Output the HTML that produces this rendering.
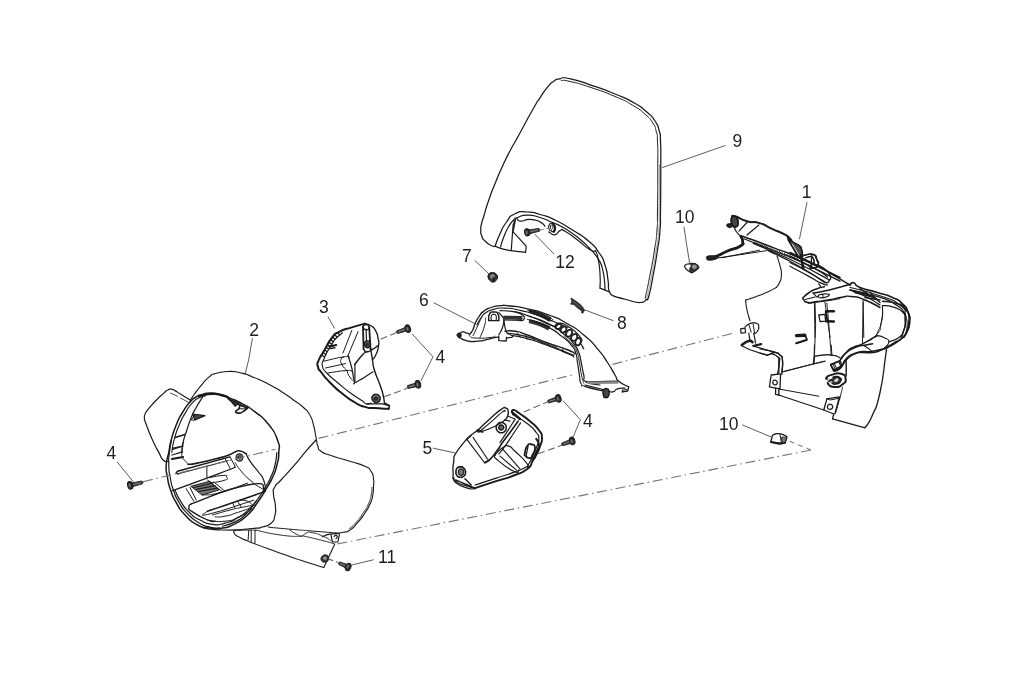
<!DOCTYPE html>
<html><head><meta charset="utf-8"><title>Handlebar covers</title>
<style>
html,body{margin:0;padding:0;background:#fff;}
body{width:1024px;height:699px;overflow:hidden;}
svg{display:block;filter:grayscale(1);}
svg path{fill:none;stroke:#1a1a1a;stroke-width:1.2;stroke-linecap:round;stroke-linejoin:round;}
svg text{font-family:"Liberation Sans",sans-serif;fill:#1e1e1e;}
</style></head><body>
<svg width="1024" height="699" viewBox="0 0 1024 699">
<rect width="1024" height="699" fill="#fff"/>
<!-- 00_labels.txt -->
<g>
<text x="732.4" y="146.9" font-size="17.5">9</text>
<text x="801.8" y="198.1" font-size="17.5">1</text>
<text x="675" y="222.5" font-size="17.5">10</text>
<text x="719.1" y="430.3" font-size="17.5">10</text>
<text x="555.2" y="268.2" font-size="17.5">12</text>
<text x="461.9" y="261.9" font-size="17.5">7</text>
<text x="617" y="328.8" font-size="17.5">8</text>
<text x="419.1" y="305.8" font-size="17.5">6</text>
<text x="319" y="313.1" font-size="17.5">3</text>
<text x="435.5" y="363.3" font-size="17.5">4</text>
<text x="583" y="426.7" font-size="17.5">4</text>
<text x="422.5" y="454.2" font-size="17.5">5</text>
<text x="249.2" y="336.4" font-size="17.5">2</text>
<text x="106.4" y="458.9" font-size="17.5">4</text>
<text x="378" y="563" font-size="17.5">11</text>
</g>
<!-- 10_windshield.txt -->
<g>
<path d="M646.5 299.2C644.3 300.3 646.8 302.4 640 302.5C633.2 302.6 635 301.6 626.2 299.5C617.5 297.4 617.9 297.3 613.8 296.2C612.2 294.6 611.2 296.7 609.2 291.2C607.3 285.8 609.4 288.8 608 280C606.6 271.2 608.1 274.2 605 265C601.9 255.8 604.2 260.4 598.8 252.5C593.3 244.6 597.5 248.8 588.8 241.2C580 233.8 583.8 237.1 572.5 230C561.2 222.9 565.8 225.2 555 220C544.2 214.8 549.2 217.2 540 214.5C530.8 211.8 535.8 212.2 527.5 212C519.2 211.8 522.1 210.2 515 213.8C507.9 217.2 511.2 215.8 506.2 222.5C501.2 229.2 503.8 225.8 500 233.8C496.2 241.8 496.7 242.2 495 246.5C493.8 246.2 494.6 247.3 491.2 245.5C487.9 243.7 488.2 244.2 485 241C481.8 237.8 483.2 239.7 481.8 236C480.3 232.3 480.8 234.1 480.8 230C480.7 225.9 480.5 228.3 481.5 223.8C482.5 219.2 481.3 224.2 483.8 216.2C486.2 208.3 485 210.8 488.8 200C492.5 189.2 490.4 195 495 183.8C499.6 172.5 497.3 177.5 502.5 166.2C507.7 155 505.5 159.6 510.5 150C515.5 140.4 510.2 150.8 517.5 137.5C524.8 124.2 525 123.2 532.5 110C540 96.8 535 105.3 540 97.8C545 90.2 542.9 92.8 547.5 87.2C552.1 81.8 549.6 84.1 553.8 81.2C557.9 78.4 555 79.7 560 78.8C565 77.8 558.8 76.5 568.8 78.5C578.8 80.5 574.6 79.6 590 84.8C605.4 89.9 600.4 88 615 94C629.6 100 623.3 96.9 633.8 102.8C644.2 108.6 639.2 105.4 646.2 111.5C653.3 117.6 650.7 114.5 655 121C659.3 127.5 657.4 124.3 659.2 131C661.1 137.7 660 128.8 660.5 141C661 153.2 660.8 144.5 660.8 167.5C660.8 190.5 660.8 189.2 660.5 210C660.2 230.8 661 216.7 660 230C659 243.3 659.8 235 657.5 250C655.2 265 656.1 259.8 653.2 275C650.4 290.2 651.2 287.4 649 295.5C646.8 303.6 647.3 298 646.5 299.2Z" style="stroke-width:1.25"/>
<path d="M561.2 80.5C564.2 80.8 560.4 79.2 570 81.5C579.6 83.8 575 82.2 590 87.2C605 92.2 600.8 90.5 615 96.5C629.2 102.5 622.5 99.3 632.5 105.2C642.5 111.2 638.2 108.3 645 114.2C651.8 120.2 649 117.2 652.8 123C656.5 128.8 654.7 125.4 656.2 131.5C657.8 137.6 657 129.2 657.5 141.2C658 153.2 657.8 144.6 657.8 167.5C657.8 190.4 657.8 189.2 657.5 210C657.2 230.8 658 216.7 657 230C656 243.3 656.8 235 654.5 250C652.2 265 653.1 258.9 650 275C646.9 291.1 646.8 290.5 645.2 298.2" style="stroke-width:1"/>
<path d="M659.5 165C659.4 180 659.5 188.3 659.2 210C659 231.7 659.8 216.7 658.8 230C657.8 243.3 658.6 235 656.2 250C653.9 265 654.8 259.2 651.8 275C648.7 290.8 648.6 290 647 297.5" style="stroke-width:0.6;stroke:#666"/>
<path d="M500.6 246.9C501.5 244.2 500.6 245.2 503.1 238.8C505.6 232.3 504.6 233.8 508.1 227.5C511.7 221.2 510.6 223.3 513.8 220C516.9 216.7 512.9 219.1 517.5 217.5C522.1 215.9 520 215.2 527.5 215.2C535 215.2 531.7 215.1 540 217.5C548.3 219.9 545 219.3 552.5 222.5C560 225.7 555.8 223.5 562.5 227.1C569.2 230.8 566.2 229.1 572.5 233.5C578.8 237.9 575.8 235.6 581.2 240.2C586.7 244.9 584.2 242.8 588.8 247.5C593.3 252.2 591.2 249.6 595 254.4C598.8 259.2 598.3 259.4 600 261.9"/>
<path d="M511.2 250.6L513.1 225L515.6 218.8L513.1 231.9L526.2 246.2L525.6 252.2"/>
<path d="M495 246.2C497.5 247.1 497.1 247.3 502.5 248.8C507.9 250.2 503.5 249.5 511.2 250.6C519 251.8 520.8 251.7 525.6 252.2"/>
<path d="M516.9 218.1C518.1 219.2 516.2 220.8 520.6 221.2C525 221.7 523.5 219.2 530 219.4C536.5 219.6 535 219.6 540 221.9C545 224.2 543.3 224.8 545 226.2"/>
<path d="M548.8 231.9C550.8 232.8 551.2 235.2 555 234.8C558.8 234.3 556.7 231.8 560 230.6C563.3 229.5 559.2 228.1 565 231.2C570.8 234.4 569.2 233.8 577.5 240C585.8 246.2 584 246.2 590 249.8C596 253.3 593.8 250.3 595.6 250.6"/>
<path d="M595.6 251C596.5 253.6 596.7 251.2 598.1 258.8C599.6 266.3 599.4 264 600 273.8C600.6 283.5 600 283.3 600 288.1"/>
<path d="M600 288.1L609.4 291.9"/>
<path d="M600 261.9C600.8 264.2 601 262.7 602.5 268.8C604 274.8 603.5 272.9 604.4 280C605.2 287.1 604.8 286.7 605 290"/>
<path d="M548.8 225.6C549.4 223.8 549.4 223.9 551 223.2C552.6 222.6 552.2 222.3 553.5 223.8C554.8 225.2 554.9 225 555 227.5C555.1 230 555.2 230.2 553.8 231.2C552.3 232.3 552.2 231.5 550.6 230.6C549 229.8 549.6 230.4 549 228.8C548.4 227.1 548.1 227.5 548.8 225.6Z" style="stroke-width:1.1"/>
<path d="M552.8 223.5C553.5 224.8 554.7 224.8 555 227.5C555.3 230.2 554.2 230.3 553.8 231.8" style="stroke-width:2.2"/>
<path d="M550.4 226.2C550.5 224.9 550.7 225.1 551.5 225C552.3 224.9 552.4 224.8 552.8 226C553.1 227.2 553.1 227.5 552.5 228.5C551.9 229.5 551.7 229.8 551 229C550.3 228.2 550.2 227.6 550.4 226.2Z" style="stroke-width:1"/>
</g>
<!-- 20_cover2.txt -->
<g>
<path d="M168.8 452.4C170.4 444.1 168.8 449.1 171.2 440C173.8 430.9 172.5 434.2 176.2 425C180 415.8 177.9 420.2 182.5 412.5C187.1 404.8 185.4 407.2 190 402C194.6 396.8 192.1 399.5 196.2 397C200.4 394.5 197.9 395.7 202.5 394.4C207.1 393.1 204.2 393.1 210 393.1C215.8 393.1 213.3 392.7 220 394.4C226.7 396.1 222.5 395 230 398.1C237.5 401.2 234.2 399.2 242.5 403.8C250.8 408.3 246.5 405.2 255 411.9C263.5 418.6 260.5 414.4 268 423.8C275.5 433.1 273.9 430.4 277.5 440C281.1 449.6 278.9 444.2 278.8 452.5C278.6 460.8 279 456.7 276.9 465C274.8 473.3 276.1 469.6 272.5 477.5C268.9 485.4 271.2 480.4 266.2 488.8C261.2 497.1 263.8 493.8 257.5 502.5C251.2 511.2 255 507.9 247.5 515C240 522.1 243.3 519.4 235 523.8C226.7 528.1 230.8 526.6 222.5 528C214.2 529.4 218.3 529 210 528C201.7 527 205.8 529.3 197.5 525C189.2 520.7 192.1 522.5 185 515C177.9 507.5 181.1 510.8 176.2 502.5C171.4 494.2 173.5 498.3 170.6 490C167.7 481.7 168.9 485.8 167.5 477.5C166.1 469.2 165.8 473.4 166.2 465C166.7 456.6 167.1 460.7 168.8 452.4Z" style="stroke-width:1.5"/>
<path d="M190 401.2C191.2 399.2 189.6 400.8 193.8 395C197.9 389.2 197.1 390 202.5 383.8C207.9 377.5 205.8 379.6 210 376.2C214.2 372.9 209.2 375.3 215 373.8C220.8 372.2 219.2 371.8 227.5 371.5C235.8 371.2 231.7 371 240 372.8C248.3 374.5 243.2 373.2 252.5 376.9C261.8 380.5 258.2 378.7 268 383.8C277.8 388.8 273.5 386.6 282 392C290.5 397.4 289.7 397.3 293.5 400" style="stroke-width:1.1"/>
<path d="M190 399.8C187.1 398 186.2 397.7 181.2 394.6C176.2 391.6 178.3 392.4 175 390.6C171.7 388.8 173.7 389.5 171.2 389.2C168.8 389 170.2 388.7 167.8 390C165.2 391.3 168 389.3 163.8 393.1C159.5 397 160.4 395.8 155 401.5C149.6 407.2 150.8 406 147.5 410.2C144.2 414.5 146 411.8 145 414.4C144 417 144.2 415 144.5 418.1C144.8 421.2 143.3 416.5 146 423.8C148.7 431 148.2 430.5 152.5 440C156.8 449.5 155.2 445.7 158.8 452.4C162.3 459 160.1 457 163.1 460C166.1 463 166.2 461 167.8 461.5" style="stroke-width:1.2"/>
<path d="M170.6 393.1L177.5 396.2" style="stroke-width:0.8"/>
<path d="M180.6 398.1L188.8 402.5" style="stroke-width:0.8"/>
<path d="M171.8 452.4C172.5 448.2 171.7 449 174.1 440C176.6 431 175.4 434.3 179.1 425.2C182.9 416.2 181 420.2 185.4 412.9C189.7 405.5 187.5 408.2 192.1 403.1C196.8 398.1 195 400.2 199.2 397.8C203.5 395.3 203.1 396.5 205 395.9" style="stroke-width:1.1"/>
<path d="M202.5 397.2C200.4 400.7 200 400.8 196.2 407.5C192.5 414.2 194.4 410 191.2 417.5C188.1 425 189.6 421.7 186.9 430C184.2 438.3 184.8 435 183.1 442.5C181.5 450 182.3 449.1 181.9 452.4"/>
<path d="M198.8 396.2C200.8 395.8 200.4 395.5 205 394.8C209.6 394 207.5 394 212.5 394C217.5 394 215 393.8 220 394.8C225 395.8 225 396.2 227.5 397" style="stroke-width:2.2"/>
<path d="M175 437.5L185 434.4" style="stroke-width:1.6"/>
<path d="M173.1 448.1L183.1 446" style="stroke-width:1.2"/>
<path d="M192.5 414L205 415.6L195 420Z" style="stroke-width:1.2;fill:#444"/>
<path d="M195 414.4L191.2 420L195 420" style="stroke-width:1"/>
<path d="M228.1 398.5C230.4 399.8 228.5 399.3 235 402.5C241.5 405.7 243.3 406.2 247.5 408.1" style="stroke-width:2"/>
<path d="M229.4 399.4L238.8 403.1L235 406.2Z" style="stroke-width:1.2;fill:#333"/>
<path d="M247.5 408.1C245.8 409.4 245.4 410.2 242.5 411.9C239.6 413.5 241 413.2 238.8 413.1C236.5 413 235.6 413 235.6 411.5C235.6 410 237.3 410.9 238.8 408.8C240.2 406.6 239.6 406.2 240 405" style="stroke-width:1.6"/>
<path d="M238.8 408.8L246.2 408.8" style="stroke-width:1"/>
</g>
<!-- 21_cover2b.txt -->
<g>
<path d="M293.5 400C296.8 402.5 298.1 402.5 303.5 407.5C308.9 412.5 306.4 409.2 309.8 415C313.1 420.8 311.4 417.5 313.5 425C315.6 432.5 314.5 430.4 316 437.5C317.5 444.6 316.2 441.7 317.9 446.2C319.5 450.8 316.6 448.1 321 451.2C325.4 454.4 321.4 452.3 331 455.6C340.6 459 338.5 457.7 349.8 461.2C361 464.8 357.7 462.9 364.8 466.2C371.8 469.6 368.1 467.1 371 471.2C373.9 475.4 372.7 473.5 373.5 478.8C374.3 484 373.7 481.8 373.5 487C373.3 492.2 373.9 489.1 372.9 494.5C371.8 499.9 373.1 497 370.4 503.2C367.7 509.5 369.1 506.6 364.8 513.2C360.4 519.9 362.2 517.6 357.2 523.2C352.2 528.9 354.3 527.1 349.8 530.1C345.2 533.1 348.1 531.3 343.5 532.2C338.9 533.2 338.5 532.8 336 533" style="stroke-width:1.1"/>
<path d="M372 487.5C371.8 490 372.3 489.8 371.2 495C370.2 500.2 371.3 497.4 368.8 503.2C366.2 509.1 367.8 506.1 363.5 512.5C359.2 518.9 360.8 517.1 356 522.5C351.2 527.9 351.4 526.7 349.1 528.8" style="stroke-width:0.9"/>
<path d="M316 440C312.7 443.8 313.5 442.5 306 451.2C298.5 460 301.8 456.7 293.5 466.2C285.2 475.8 287.2 473.1 281 480C274.8 486.9 277.2 482.2 274.8 487C272.2 491.8 273.3 488.2 273.5 494.5C273.7 500.8 275 498.7 275.4 505.8C275.8 512.8 276.2 509.9 274.8 515.8C273.3 521.6 275.2 519.5 271 523.2C266.8 527 267.2 525.3 262.2 527C257.2 528.7 260.6 527.7 256 528.2C251.4 528.8 254.7 528.2 248.5 528.8C242.3 529.2 245.3 529.3 237.5 529.8C229.7 530.2 233.3 530.1 225 530C216.7 529.9 220.1 530.2 212.5 529.4C204.9 528.5 205.7 528.1 202.2 527.5" style="stroke-width:1.2"/>
<path d="M268.5 527.2C276.8 528 278.9 528.2 293.5 529.5C308.1 530.8 298.1 529.8 312.2 531C326.4 532.2 328.1 532.3 336 533" style="stroke-width:1"/>
<path d="M289.8 530.1C292.2 531.6 293.1 532.6 297.2 534.5C301.4 536.4 299.3 536.2 302.2 535.8C305.2 535.3 302.7 534.3 306 533.2C309.3 532.2 306.4 531.6 312.2 532.6C318.1 533.7 317.2 533.7 323.5 536.4C329.8 539.1 328.5 539.3 331 540.8" style="stroke-width:0.9"/>
<path d="M256 530.1C264.3 531.8 265.6 533 281 535.1C296.4 537.2 295.2 536 302.2 536.4" style="stroke-width:0.9"/>
<path d="M233.8 531.2C234.2 532.3 232.9 532.3 235 534.4C237.1 536.5 235 535 240 537.5C245 540 238.3 537.3 250 541.9C261.7 546.5 258.3 545.2 275 551.2C291.7 557.3 283.8 554.6 300 560C316.2 565.4 315.8 565 323.8 567.5" style="stroke-width:1.1"/>
<path d="M323.8 567.5L334.8 543.9" style="stroke-width:1.1"/>
<path d="M303.5 536C308.5 537.2 308.5 537 318.5 539.5C328.5 542 328.5 542.2 333.5 543.5" style="stroke-width:0.9"/>
<path d="M233.5 530.8C238.5 530.5 241 530.2 248.5 530.1C256 530 253.5 530.4 256 530.5" style="stroke-width:0.9"/>
<path d="M248.8 530.2L248.1 540" style="stroke-width:1"/>
<path d="M251.2 530L251.2 541.9" style="stroke-width:1"/>
<path d="M255 530L255 543.1" style="stroke-width:1"/>
<path d="M322.2 536.8C324.8 535.9 324.3 535.3 329.8 534.2C335.2 533.2 335.6 533.8 338.5 533.5" style="stroke-width:1.2"/>
<path d="M331 535.1L332.5 542L337.9 542L339.5 533.9" style="stroke-width:1.2"/>
<path d="M334.1 536.4C334.8 536 335 534.9 336 535.1C337 535.3 337.2 535.9 337.2 537C337.2 538.1 336.4 538 336 538.5" style="stroke-width:1.2"/>
<path d="M321.2 558.5C321.5 556.6 321.3 556.9 322.9 555.8C324.5 554.6 324.2 554.7 326 555.1C327.8 555.5 327.6 555.1 328.2 557C328.9 558.9 329 559.1 327.9 560.8C326.7 562.4 326.6 561.8 324.8 562C322.9 562.2 323.4 562.5 322.2 561.4C321.1 560.2 321 560.4 321.2 558.5Z" style="stroke-width:1;fill:#333"/>
<path d="M323.5 558.2C323.3 557.3 323.7 557.3 324.5 557C325.3 556.7 325.4 556.6 326 557.2C326.6 557.9 326.6 558 326.2 558.9C325.9 559.7 325.9 560 325 559.8C324.1 559.5 323.7 559.2 323.5 558.2Z" style="stroke-width:0.5;stroke:#aaa;fill:#999"/>
</g>
<!-- 22_cover2ring.txt -->
<g>
<path d="M171.5 440C170.8 444.2 170.3 444.2 169.4 452.5C168.5 460.8 168.5 456.7 168.8 465C169 473.3 168.7 469.2 170.2 477.5C171.8 485.8 170.5 481.8 173.4 490C176.3 498.2 174.2 494.3 179 502.2C183.8 510.2 180.9 506.9 187.6 513.8C194.4 520.6 191.8 518.4 199.2 522.9C206.7 527.3 203.1 525.4 210 527.1C216.9 528.8 216.7 527.7 220 528" style="stroke-width:1.2"/>
<path d="M175 490C176.9 493.8 175.8 493.8 180.6 501.2C185.4 508.8 182.9 506.2 189.4 512.5C195.8 518.8 192.3 516 200 520C207.7 524 204.2 523.3 212.5 524.4C220.8 525.4 216.7 525.2 225 523.1C233.3 521 230 522.3 237.5 518.1C245 514 241.2 516.2 247.5 510.6C253.8 505 253.3 504.4 256.2 501.2" style="stroke-width:1.2"/>
<path d="M276.9 452.5C276.2 456.7 277.1 456.7 275 465C272.9 473.3 274.2 469.6 270.6 477.5C267.1 485.4 269.4 480.6 264.4 488.8C259.4 496.9 261.7 493.5 255.6 501.9C249.6 510.2 253.1 507.1 246.2 513.8C239.4 520.4 242.9 517.7 235 521.9C227.1 526 226.7 524.8 222.5 526.2" style="stroke-width:1.2"/>
<path d="M183.1 442.5C182.7 445.8 182.1 447.4 181.9 452.4C181.7 457.4 181.5 454.8 182.5 457.5C183.5 460.2 183.1 458.5 185 460.6C186.9 462.8 187.1 462.9 188.1 464" style="stroke-width:1"/>
<path d="M172.5 449.4L182.5 446.2" style="stroke-width:1.3"/>
<path d="M171.9 455L182.5 451.9" style="stroke-width:1.3"/>
<path d="M171.9 459L183.1 456.9" style="stroke-width:2"/>
<path d="M188.1 464.4C191.2 464 188.1 465 197.5 463.1C206.9 461.2 205.8 461.5 216.2 458.8C226.7 456 222.5 457.3 228.8 455C235 452.7 231.2 453.2 235 451.9C238.8 450.5 236.2 450.4 240 451C243.8 451.6 244.2 452.8 246.2 453.8" style="stroke-width:1.6"/>
<path d="M177.8 474L176.2 472.8L177.5 471.2L230 456.9" style="stroke-width:1.4"/>
<path d="M177.5 474L228.1 460.6" style="stroke-width:1"/>
<path d="M236.2 457.5C236.2 455.8 236 455.9 237.2 454.8C238.5 453.6 238.2 453.6 240 454C241.8 454.4 241.8 454.2 242.5 456C243.2 457.8 243.1 457.7 242.2 459.4C241.4 461 241.7 460.8 240 461C238.3 461.2 238.5 461.2 237.2 460C236 458.8 236.2 459.2 236.2 457.5Z" style="stroke-width:1.3"/>
<path d="M237.8 457.5C237.7 456.4 237.7 456.4 238.5 455.8C239.3 455.1 239.3 455 240.2 455.5C241.2 456 241.2 456.1 241.2 457.2C241.3 458.4 241.3 458.4 240.5 459C239.7 459.6 239.7 459.5 238.8 459C237.8 458.5 237.8 458.6 237.8 457.5Z" style="stroke-width:1;fill:#555"/>
<path d="M246.2 453.8C247.5 456.2 245.8 455 250 461.2C254.2 467.5 254.4 466.7 258.8 472.5C263.1 478.3 260.8 473.5 263.1 478.8C265.4 484 264.8 485 265.6 488.1" style="stroke-width:1.2"/>
<path d="M235 462.5C237.1 465.4 236.2 465.4 241.2 471.2C246.2 477.1 243.8 474.6 250 480C256.2 485.4 254.8 484.4 260 487.5C265.2 490.6 263.8 488.8 265.6 489.4" style="stroke-width:1"/>
<path d="M206.9 465.6L206.9 477.5" style="stroke-width:1"/>
<path d="M172.5 490.6C184 486.5 187.7 485.2 206.9 478.1C226 471 220.6 473.1 230 469.4C239.4 465.6 233.3 467.7 235 466.9" style="stroke-width:1.3"/>
<path d="M225 458.8L230 468.1" style="stroke-width:1"/>
<path d="M230 456.9L235 466.2" style="stroke-width:1"/>
<path d="M210 477.5C214.6 476.8 218.2 475.5 223.8 475.4C229.2 475.3 226 475.7 226.5 477.2C227 478.8 229.9 478.2 225.2 480C220.6 481.8 216.8 481.8 212.5 482.8" style="stroke-width:1"/>
<path d="M191.2 486.2L210 481.2L218.8 490L202.5 495Z" style="stroke-width:1;fill:#777"/>
<path d="M193.8 487.5L212.5 483.1" style="stroke-width:1.2"/>
<path d="M196.2 489.4L215 485.6" style="stroke-width:1.2"/>
<path d="M198.8 491.5L216.9 488.1" style="stroke-width:1.2"/>
<path d="M207.5 480L222.5 491.9" style="stroke-width:1"/>
<path d="M213.8 481.9L225 491.2" style="stroke-width:1"/>
<path d="M186.2 488.8L193.8 501.2" style="stroke-width:1"/>
<path d="M190 487.5L196.2 500" style="stroke-width:1"/>
<path d="M191.2 503.8C210 497.5 222.9 489.6 247.5 485C272.1 480.4 259.2 488.3 265 490" style="stroke-width:1.3"/>
<path d="M191.2 503.8C190.5 504.8 188.6 504.2 189 506.9C189.4 509.6 186.3 507.5 192.5 511.9C198.7 516.2 200 516.9 207.5 520C215 523.1 212.5 520.8 215 521.2" style="stroke-width:1.3"/>
<path d="M202.5 495C208.3 494.2 205 496.5 220 492.5C235 488.5 238.3 486.2 247.5 483.1" style="stroke-width:1"/>
<path d="M207.5 511.2C223.3 505.8 236.2 501.7 255 495C273.8 488.3 260.8 492.5 263.8 491.2" style="stroke-width:1.5"/>
<path d="M207.5 511.2C208.1 512.2 194 517.7 209.4 514C224.8 510.3 239 504.8 253.8 500.2" style="stroke-width:1"/>
<path d="M212.5 515C218.3 513.3 220.4 512.5 230 510C239.6 507.5 232.9 509.2 241.2 507.5C249.6 505.8 250.4 505.8 255 505" style="stroke-width:1"/>
<path d="M215 516.9C218.3 516.7 217.5 517.7 225 516.2C232.5 514.8 229.2 515.2 237.5 512.5C245.8 509.8 245.8 509.6 250 508.1" style="stroke-width:1"/>
<path d="M207.5 520C213.3 520.4 214.2 522.5 225 521.2C235.8 520 230.8 520.4 240 516.2C249.2 512.1 248.3 511.2 252.5 508.8" style="stroke-width:1"/>
<path d="M232.5 502.5L235 508.1" style="stroke-width:1"/>
<path d="M237.5 501.2L241.2 506.9" style="stroke-width:1"/>
<path d="M240 500C242.5 500.4 243.3 499.6 247.5 501.2C251.7 502.9 250.8 503.8 252.5 505" style="stroke-width:1"/>
</g>
<!-- 30_part1a.txt -->
<g>
<path d="M732 217.5C733 217.1 730.1 215 735.1 216.2C740.1 217.5 738.9 219 747 221.2C755.1 223.5 751.2 220.6 759.5 223.1C767.8 225.6 763.7 225 772 228.8C780.3 232.5 778.5 231 784.5 234.4C790.5 237.7 787.2 235.8 790.1 238.8C793 241.7 790.1 240.6 793.2 243.1C796.4 245.6 796.8 244 799.5 246.2C802.2 248.5 800.3 246.7 801.4 250C802.4 253.3 802.2 254.2 802.6 256.2" style="stroke-width:2"/>
<path d="M731.6 217.8C732.7 215.7 732.6 215.8 734.5 216.2C736.4 216.7 736.2 216.5 737.4 219C738.5 221.5 738.4 221.2 738 223.8C737.6 226.3 738 225.9 736.2 226.6C734.5 227.4 734.5 227.4 732.9 226C731.2 224.6 731.8 225.2 731.4 222.5C731 219.8 730.6 219.8 731.6 217.8Z" style="stroke-width:1.8;fill:#444"/>
<path d="M727 225C727.2 223.8 727.2 224 728.9 223.8C730.5 223.5 731 223.3 732 224.4C733 225.4 733 225.9 731.8 226.9C730.5 227.8 729.8 227.9 728.2 227.2C726.7 226.6 726.8 226.2 727 225Z" style="stroke-width:1;fill:#222"/>
<path d="M747 222.5L738.9 231.2" style="stroke-width:1.2"/>
<path d="M758.9 225L747 235" style="stroke-width:1.2"/>
<path d="M734.5 228.1C735.3 229.6 734.9 229.8 737 232.5C739.1 235.2 739.5 235 740.8 236.2" style="stroke-width:1.2"/>
<path d="M740.8 236.2C741.4 237.9 742.8 237.9 742.6 241.2C742.4 244.6 745.3 242.9 740.1 246.2C734.9 249.6 734.3 248.1 727 251.2C719.7 254.4 722.8 253.5 718.2 255.6C713.7 257.8 714.9 257 713.2 257.8" style="stroke-width:2.8"/>
<path d="M707.2 256.5C709 255.6 708.8 255.8 712 255.8C715.2 255.7 715.1 255.6 717 256.2C718.9 256.9 718.9 256.6 717.6 257.8C716.4 258.9 716.4 259 713.2 259.8C710.1 260.5 710.4 260.4 708.2 260C706.1 259.6 707.1 259.7 706.8 258.5C706.4 257.3 705.5 257.4 707.2 256.5Z" style="stroke-width:1;fill:#222"/>
<path d="M712 258.8L742 254.4" style="stroke-width:1"/>
<path d="M742 254.4L767 250.6" style="stroke-width:1"/>
<path d="M722 257.8L759.5 250.2" style="stroke-width:1"/>
<path d="M742.6 236.2C753.2 240.2 755.5 240.8 774.5 248.1C793.5 255.4 777.7 248.3 799.5 258.1C821.3 267.9 826.5 271 840 277.5" style="stroke-width:1.5"/>
<path d="M744.5 239C754.5 243 756.2 243.6 774.5 251C792.8 258.4 777.7 251.2 799.5 261.2C821.3 271.3 826.5 274.6 840 281.2" style="stroke-width:1.3"/>
<path d="M753.2 243.4C760.3 246.4 759.1 245.6 774.5 252.5C789.9 259.4 781.2 254.8 799.5 264C817.8 273.2 819.5 274.7 829.5 280" style="stroke-width:1.2"/>
<path d="M768.2 250.6C778.7 255.9 780.8 255.9 799.5 266.5C818.2 277.1 816.2 277.2 824.5 282.5" style="stroke-width:1.2"/>
<path d="M754.5 241.9L757 245" style="stroke-width:1"/>
<path d="M759.5 243.8L762 246.9" style="stroke-width:1"/>
<path d="M764.5 245.6L767 248.8" style="stroke-width:1"/>
<path d="M769.5 247.8L772 250.6" style="stroke-width:1"/>
<path d="M774.5 249.8L777 252.5" style="stroke-width:1"/>
<path d="M779.5 251.5L782 254.6" style="stroke-width:1"/>
<path d="M784.5 253.5L787 256.5" style="stroke-width:1"/>
<path d="M789.5 255.5L792 258.5" style="stroke-width:1"/>
<path d="M794.5 257.5L797 260.5" style="stroke-width:1"/>
<path d="M757 242.9L759.5 246" style="stroke-width:1"/>
<path d="M762 244.8L764.5 247.9" style="stroke-width:1"/>
<path d="M767 246.8L769.5 249.9" style="stroke-width:1"/>
<path d="M772 248.6L774.5 251.8" style="stroke-width:1"/>
<path d="M777 250.6L779.5 253.8" style="stroke-width:1"/>
<path d="M782 252.6L784.5 255.8" style="stroke-width:1"/>
<path d="M787 254.5L789.5 257.6" style="stroke-width:1"/>
<path d="M792 256.5L794.5 259.6" style="stroke-width:1"/>
<path d="M797 258.4L799.5 261.5" style="stroke-width:1"/>
<path d="M777 256.2C778 259.6 778.7 260 780.1 266.2C781.6 272.5 781.6 269.6 781.4 275C781.2 280.4 781.2 278.4 779.5 282.5C777.8 286.6 777.4 285.8 776.4 287.4" style="stroke-width:1.1"/>
<path d="M787.6 237.5C787.2 235.2 788.7 239 792.6 241.9C796.6 244.7 796.5 243.3 799.5 246C802.5 248.7 800.7 246.7 801.5 250C802.3 253.3 802.6 253.4 802 256C801.4 258.6 802.5 260.2 799.8 257.8C797 255.3 797.9 255.5 793.9 248.8C789.8 242 788 239.8 787.6 237.5Z" style="stroke-width:1.6;fill:#555"/>
<path d="M792 243.8L799.5 256.2" style="stroke-width:0.8;stroke:#fff"/>
<path d="M788.2 240L798.2 256.9" style="stroke-width:1.2"/>
<path d="M803.2 255.6C806.2 255.2 807.6 253.3 812 254.4C816.4 255.4 814.3 255.2 816.4 258.8C818.5 262.3 819.7 261.9 818.2 265C816.8 268.1 815.3 268.1 812 268.1C808.7 268.1 809.5 266 808.2 265" style="stroke-width:1.3"/>
<path d="M805.1 258.1C807.2 257.7 808.5 255.4 811.4 256.9C814.3 258.3 814.1 259.6 813.9 262.5C813.7 265.4 811.8 264.6 810.8 265.6" style="stroke-width:1.2"/>
<path d="M812 254.4L810.8 265.6" style="stroke-width:1.3"/>
<path d="M800.8 255L803.2 268.1" style="stroke-width:2.6"/>
<path d="M805 255C807.9 254.8 809.8 252.7 813.8 254.4C817.7 256 815.6 256 816.9 260C818.1 264 819.8 263.3 817.5 266.2C815.2 269.2 812.5 267.9 810 268.8" style="stroke-width:1.4"/>
<path d="M807.5 257.5C809.2 257.4 810.2 254.8 812.5 257.2C814.8 259.8 813.8 262.4 814.4 265" style="stroke-width:1.2"/>
<path d="M790 252.5C798.3 256.5 801.2 257.3 815 264.4C828.8 271.5 819.6 266.9 831.2 273.8C842.9 280.6 843.8 281.2 850 285" style="stroke-width:1.5"/>
<path d="M790 256.2C798.3 260.4 802.5 261.9 815 268.8C827.5 275.6 823.3 274.2 827.5 276.9" style="stroke-width:1.3"/>
<path d="M790 262.5C796.2 265.8 796.7 265.8 808.8 272.5C820.8 279.2 820.4 279.3 826.2 282.8" style="stroke-width:1.2"/>
<path d="M790 266.2C795.8 269.4 797.1 270 807.5 275.6C817.9 281.2 814.6 280 821.2 283.1C827.9 286.2 825.4 284.4 827.5 285" style="stroke-width:1.2"/>
<path d="M815 264.4C817.5 265.4 817.5 264 822.5 267.5C827.5 271 827.9 270.4 830 275C832.1 279.6 830 278.7 828.8 281.2C827.5 283.8 827.1 282.2 826.2 282.8" style="stroke-width:1.4"/>
<path d="M818.8 283.8L821.2 287.5" style="stroke-width:1.2"/>
<path d="M803 297.8C805.1 296 804.6 295.5 809.2 292.5C813.9 289.5 811.8 290.7 816.9 288.8C821.9 286.8 821.9 287.4 824.4 286.8" style="stroke-width:1.5"/>
<path d="M813.1 293.1C816.5 292.5 816.5 292.6 823.2 291.2C830 289.9 825.8 290.9 833.2 289C840.8 287.1 840.1 287.1 845.8 285.5C851.4 283.9 848.8 284.7 850.2 284.2" style="stroke-width:1.5"/>
<path d="M803 297.8C803.3 298.6 802.3 298.7 804 300.2C805.7 301.8 803.8 302 808.1 302.5C812.4 303 809.8 302.5 816.9 301.6C824 300.7 821 301.2 829.4 299.8C837.8 298.3 834.6 298.3 842 297.2C849.4 296.2 843.8 295.6 851.5 296.5C859.2 297.4 855.5 296.3 865 300C874.5 303.7 875 305 880 307.5" style="stroke-width:1.5"/>
<path d="M808.1 303.4C814.6 302.5 816.9 302.3 827.5 300.8C838.1 299.2 835.8 299.3 840 298.6" style="stroke-width:1"/>
<path d="M805 299.5L815 297" style="stroke-width:1.1"/>
<path d="M813.1 293.1L816.9 297.2" style="stroke-width:1.1"/>
<path d="M818.1 296C819 295.1 817.9 295 821 294.4C824.1 293.7 824.8 293.7 827.5 294C830.2 294.3 829.4 294.2 829 295.2C828.6 296.2 828.8 296.2 826.2 297C823.7 297.8 823.8 297.8 821.2 297.8C818.7 297.8 819.5 297.6 818.5 297C817.5 296.4 817.3 296.9 818.1 296Z" style="stroke-width:1.2"/>
<path d="M822.8 294.5L823 297.8" style="stroke-width:1.1"/>
<path d="M850 285C851.2 284.2 850.4 281.9 853.8 282.8C857.1 283.6 852.1 284.2 860 287.5C867.9 290.8 866.7 289.2 877.5 292.5C888.3 295.8 884.2 293.8 892.5 297.5C900.8 301.2 897.3 298.8 902.5 303.8C907.7 308.8 906 306.2 908.1 312.5C910.2 318.8 909.4 315.8 908.8 322.5C908.1 329.2 907.9 327.5 906.2 332.5C904.6 337.5 904.6 335.8 903.8 337.4" style="stroke-width:1.6"/>
<path d="M850 290C855 291.2 854.2 291 865 293.8C875.8 296.5 872.1 294.4 882.5 298.1C892.9 301.9 889.2 300.2 896.2 305C903.3 309.8 900.6 306.7 903.8 312.5C906.9 318.3 905.8 315.8 905.6 322.5C905.4 329.2 904.6 327.5 903.1 332.5C901.7 337.5 901.9 335.8 901.2 337.4" style="stroke-width:1.3"/>
<path d="M850 287.5C859.2 290 860.8 289.2 877.5 295C894.2 300.8 890.8 298.3 900 305C909.2 311.7 903.3 311.7 905 315" style="stroke-width:1.2"/>
<path d="M852.5 291.2C857.5 293.3 858.3 292.9 867.5 297.5C876.7 302.1 875.8 302.5 880 305" style="stroke-width:1.2"/>
<path d="M850 290L867.5 293.8" style="stroke-width:1.6"/>
<path d="M855 292.5L872.5 296.9" style="stroke-width:1.6"/>
<path d="M860 288.8L877.5 300" style="stroke-width:1.4"/>
<path d="M870 292.5L880 302.5" style="stroke-width:1.4"/>
<path d="M865 297.5L880 300" style="stroke-width:1.4"/>
<path d="M814.4 302.5L815 337.4" style="stroke-width:1"/>
<path d="M863.1 300L863.8 337.4" style="stroke-width:1"/>
<path d="M825 302.5C825.8 308.3 825.8 308.4 827.5 320C829.2 331.6 829.2 331.6 830 337.4" style="stroke-width:1"/>
<path d="M882.5 306.2C882.3 310.8 883.5 311.2 881.9 320C880.2 328.8 879.8 326.7 877.5 332.5C875.2 338.3 875.8 335.8 875 337.4" style="stroke-width:1"/>
<path d="M818.8 315L825 314.4L825.6 321.2L820 321.5Z" style="stroke-width:1.3;fill:#fff"/>
<path d="M826.2 311.2L833.8 311.2" style="stroke-width:2.6"/>
<path d="M826.2 321.2L833.8 321.5" style="stroke-width:2.6"/>
<path d="M825.6 312.5L827.5 321.9" style="stroke-width:1.6"/>
<path d="M796.2 335.8L805 335.5" style="stroke-width:2.8"/>
</g>
<!-- 31_part1b.txt -->
<g>
<path d="M776.4 287.4C773.4 288.9 774.6 288.8 767.5 292C760.4 295.2 762.3 294.3 755 297C747.7 299.7 748.8 299.1 745.6 300.1" style="stroke-width:1.1"/>
<path d="M745.6 300.1C746 303.2 745.4 302.6 746.9 309.5C748.3 316.4 749 317 750 320.8" style="stroke-width:1.1"/>
<path d="M740.6 328.9L745 328.2L745.6 332.6L741 333.2Z" style="stroke-width:1.2"/>
<path d="M745 327.2C746.7 326 746.2 324.8 750 323.5C753.8 322.2 753.3 322.1 756.2 323.2C759.2 324.4 758.5 324.1 758.8 327C759 329.9 758.5 329.8 756.9 332C755.2 334.2 754.8 333 753.8 333.5" style="stroke-width:1.2"/>
<path d="M748.8 324.5L751.2 332.2" style="stroke-width:1"/>
<path d="M753.1 323.9L754.6 333.2" style="stroke-width:1"/>
<path d="M748.8 333.2L750 340.8" style="stroke-width:1.2"/>
<path d="M753.8 333.5L755.6 343.2" style="stroke-width:1.2"/>
<path d="M741.9 344.8C744.2 343.5 745.2 341.8 748.8 341C752.3 340.2 751.2 341.8 752.5 342.2" style="stroke-width:2.6"/>
<path d="M753.8 345.8L761.2 344.1" style="stroke-width:2.2"/>
<path d="M741.2 345.5L750 349.8L767.5 355.4L773.8 352L752.5 345.8" style="stroke-width:1.2"/>
<path d="M773.8 352C775.8 353 777.1 352.2 780 355.1C782.9 358 781.9 354.3 782.5 360.8C783.1 367.2 782.1 369.8 781.9 374.4" style="stroke-width:1.3"/>
<path d="M771.2 353.5C773.5 354.8 775.4 354.4 778.1 357.2C780.8 360.1 779.6 356.3 779.4 362C779.2 367.7 778.1 370.2 777.5 374.4" style="stroke-width:1.3"/>
<path d="M782.5 372L813.8 363.9L825 361.4" style="stroke-width:1"/>
<path d="M815 303.2L815.6 324.5L814.4 356.4L813.1 363.9" style="stroke-width:1"/>
<path d="M814.4 356.4C820 356 822.7 354.5 831.2 355.1C839.8 355.8 837.1 357.2 840 358.2" style="stroke-width:1"/>
<path d="M826.9 303.2C827.5 310.3 827.3 307.2 828.8 324.5C830.2 341.8 830.4 344.9 831.2 355.1" style="stroke-width:1"/>
<path d="M796.2 335.1L805 334.6" style="stroke-width:2"/>
<path d="M805 334.9L806.9 339.5" style="stroke-width:1.8"/>
<path d="M796.2 343.2L806.5 340" style="stroke-width:2"/>
<path d="M830.6 365.1L838.8 361.4L841.2 367L833.8 371.4Z" style="stroke-width:1.3"/>
<path d="M834.4 363.5L836.9 369.5" style="stroke-width:1"/>
<path d="M760 348.8C764.6 349.8 767.1 349.8 773.8 351.9C780.4 354 777.1 352.3 780 355C782.9 357.7 781.9 354.4 782.5 360C783.1 365.6 782.1 367.9 781.9 371.9" style="stroke-width:1.3"/>
<path d="M760 353.1L767.5 355L775 352.5" style="stroke-width:1.2"/>
<path d="M778.8 357.5L778.8 372.8" style="stroke-width:1.3"/>
<path d="M771.2 375L780.6 373.8L780 388.8L769.4 386.9Z" style="stroke-width:1.3"/>
<path d="M772.8 382.5C772.7 381.2 772.7 381.4 773.5 380.6C774.3 379.9 774.1 380 775.2 380.2C776.4 380.5 776.4 380.4 777 381.5C777.6 382.6 777.5 382.4 777.1 383.5C776.7 384.6 776.9 384.4 775.8 384.8C774.6 385.1 774.8 385.2 773.8 384.5C772.8 383.8 772.8 383.8 772.8 382.5Z" style="stroke-width:1.3"/>
<path d="M781.9 371.9C792.5 369.2 799.4 367.4 813.8 363.8C828.1 360.1 821.2 361.9 825 361" style="stroke-width:1"/>
<path d="M813.8 363.8L814.4 356.2" style="stroke-width:1"/>
<path d="M814.4 356.2C817.1 355.8 816.9 355.4 822.5 355C828.1 354.6 825.4 354.2 831.2 355C837.1 355.8 837.1 356.7 840 357.5" style="stroke-width:1"/>
<path d="M814.4 345L814 363.8" style="stroke-width:1"/>
<path d="M831.2 345L831.9 355" style="stroke-width:1"/>
<path d="M775.6 388.1L775.6 394.4L779.4 395.2" style="stroke-width:1.3"/>
<path d="M778.8 388.8L778.8 395" style="stroke-width:1.3"/>
<path d="M779.4 395.2L823.8 410L833.8 414" style="stroke-width:1.2"/>
<path d="M778.8 389L818.8 396.2" style="stroke-width:1"/>
<path d="M823.8 410L826.9 398.8L839.4 396.9L835 413.4" style="stroke-width:1.3"/>
<path d="M827.5 406.9C827.6 405.5 827.5 405.6 828.5 404.8C829.5 403.9 829.3 404 830.6 404.4C832 404.8 832 404.7 832.5 406C833 407.3 833 407.2 832.2 408.2C831.5 409.3 831.6 409.1 830.2 409.2C828.9 409.4 829.2 409.5 828.2 408.8C827.3 408 827.4 408.2 827.5 406.9Z" style="stroke-width:1.3"/>
<path d="M833.8 414L832.5 418.8" style="stroke-width:1.3"/>
<path d="M826.9 398.8L830 400L840 398.1" style="stroke-width:1"/>
<path d="M832.5 418.8L865 427.8C867.5 423.5 867.5 426.8 872.5 415C877.5 403.2 875.7 411.7 880 392.5C884.3 373.3 883.3 371.7 885.4 357.5C887.5 343.3 886 352.5 886.2 350" style="stroke-width:1.3"/>
<path d="M842.5 387.5C841.7 390.8 842.3 389 840 397.5C837.7 406 837.1 407.9 835.6 413.1" style="stroke-width:1"/>
<path d="M830.6 364.4L840 360.6L841.9 365.6L833.8 370Z" style="stroke-width:1.4"/>
<path d="M833.1 363.8L835 369.4" style="stroke-width:1"/>
<path d="M840 360.6C841.7 358.3 840 358.1 845 353.8C850 349.4 847.9 350.4 855 347.5C862.1 344.6 860.4 346.2 866.2 345C872.1 343.8 870.4 344.2 872.5 343.8" style="stroke-width:1.5"/>
<path d="M835 371.2C837.1 370 837.5 371.7 841.2 367.5C845 363.3 840.8 363.8 846.2 358.8C851.7 353.8 848.8 355 857.5 352.5C866.2 350 862.3 352.9 872.5 351.2C882.7 349.6 882.8 348.8 888 347.5" style="stroke-width:1.5"/>
<path d="M846.2 361.2L846.2 376.2" style="stroke-width:1"/>
<path d="M826.2 377.8C827.1 375.8 827.5 376 832.5 374.6C837.5 373.3 836.9 372.4 841.2 373.8C845.6 375.1 845.2 375.2 845.6 378.8C846 382.3 846 381.7 842.5 384.4C839 387.1 839.8 387 835 386.9C830.2 386.8 829.8 386.1 828.1 384C826.5 381.9 830.6 382.7 830 380.6C829.4 378.5 825.4 379.8 826.2 377.8Z" style="stroke-width:2"/>
<path d="M831.2 379C832.5 376.8 832.7 376.9 835.6 376.5C838.5 376.1 838.3 376.2 840 377.8C841.7 379.3 841.9 379.2 840.6 381.2C839.4 383.3 839.2 383.4 836.2 384C833.3 384.6 833.5 384.8 831.9 383.1C830.2 381.5 830 381.2 831.2 379Z" style="stroke-width:1.4;fill:#333"/>
<path d="M834.8 380.2C835.3 379.3 835.7 378.9 836.9 378.8C838 378.6 838.2 378.9 838.2 379.8C838.2 380.6 837.9 380.6 836.9 381.2C835.9 381.9 836 382 835.2 381.6C834.5 381.3 834.2 381.2 834.8 380.2Z" style="stroke-width:0.8;stroke:#ddd;fill:#ddd"/>
<path d="M828.1 379.4L831.9 377.8" style="stroke-width:1.5;stroke:#eee"/>
<path d="M828.8 382.5L831.9 381.9" style="stroke-width:1.2;stroke:#eee"/>
<path d="M882.5 301.2C887.5 302.1 889.6 300.8 897.5 303.8C905.4 306.7 902.3 305 906.2 310C910.2 315 908.8 312.5 909.4 318.8C910 325 910.4 322.5 908.1 328.8C905.8 335 907.7 332.5 902.5 337.5C897.3 342.5 899.2 339.8 892.5 343.8C885.8 347.7 889.2 346.5 882.5 349.4C875.8 352.3 879.2 351.5 872.5 352.5C865.8 353.5 868.3 352.1 862.5 352.5C856.7 352.9 860 351.7 855 353.8C850 355.8 851.7 355 847.5 358.8C843.3 362.5 845.8 361.2 842.5 365C839.2 368.8 839.2 368.3 837.5 370" style="stroke-width:1.5"/>
<path d="M900 303.8C902.7 306.7 904.9 306.2 908.1 312.5C911.3 318.8 910.2 315.8 909.6 322.5C909.1 329.2 909.7 326.7 906.5 332.5C903.3 338.3 906.3 335 900 340C893.7 345 895 343.8 887.5 347.5C880 351.2 880.8 350 877.5 351.2" style="stroke-width:1.2"/>
<path d="M882.5 305.6C885.8 306 885.8 304.8 892.5 306.9C899.2 309 898.3 307.5 902.5 311.9C906.7 316.2 904.6 314 905 320C905.4 326 905.8 324.2 903.8 330C901.7 335.8 903.8 333.5 898.8 337.5C893.8 341.5 892.1 340.4 888.8 341.9" style="stroke-width:1.3"/>
<path d="M877.5 335.6C879.6 336.2 880 335.4 883.8 337.5C887.5 339.6 888.8 338.1 888.8 341.9C888.8 345.6 885.4 346.5 883.8 348.8" style="stroke-width:1.1"/>
<path d="M863.8 345.6C865.4 346.7 865.8 346.5 868.8 348.8C871.7 351 871.2 351.2 872.5 352.5" style="stroke-width:1.1"/>
<path d="M877.5 335.6C875.4 336.7 876.2 336 871.2 338.8C866.2 341.5 868.8 340.8 862.5 343.8C856.2 346.7 857.9 344.6 852.5 347.5C847.1 350.4 850 348.8 846.2 352.5C842.5 356.2 842.9 356.7 841.2 358.8" style="stroke-width:1.4"/>
<path d="M863.1 302.5L862.5 342.5" style="stroke-width:1"/>
<path d="M882.5 306.2C882.1 311.7 883.3 312.9 881.2 322.5C879.2 332.1 882.1 328.1 876.2 335C870.4 341.9 867.9 340.4 863.8 343.1" style="stroke-width:1"/>
<path d="M846.2 360L846.2 375" style="stroke-width:1"/>
<path d="M902.5 311.9C903.5 312.9 904.2 309.4 905.6 315C907.1 320.6 907.5 321.7 906.9 328.8C906.2 335.8 904.8 333.8 903.8 336.2" style="stroke-width:1"/>
</g>
<!-- 40_part3.txt -->
<g>
<path d="M364.9 323.6C360.5 324.9 360.3 324.7 351.8 327.4C343.2 330.1 345.9 328.2 339.2 331.8C332.6 335.3 336.8 331.8 331.8 338C326.8 344.2 328.6 343 324.2 350.5C319.9 358 320.7 355.1 318.6 360.5C316.5 365.9 317 362.6 318 366.8C319 370.9 317.8 367.8 321.8 373C325.8 378.2 323.1 375.6 330 382.5C336.9 389.4 334.2 387.1 342.5 393.8C350.8 400.4 347.5 398.1 355 402.5C362.5 406.9 358.8 405 365 406.9C371.2 408.8 365.8 407.5 373.8 408.1C381.7 408.8 383.8 408.5 388.8 408.8" style="stroke-width:2"/>
<path d="M388.8 408.8L389.4 405.6L385 403.1" style="stroke-width:1.6"/>
<path d="M323 361.1C322.8 362.8 321.1 362.2 322.4 366.1C323.6 370.1 321.5 367.4 326.8 373C332 378.6 330.1 376.3 338 383C345.9 389.7 342.6 387.2 350.5 393C358.4 398.8 356.5 396.9 361.8 400.5C367 404.1 363.1 402.9 366.2 403.8C369.4 404.6 369.6 403.3 371.2 403.1" style="stroke-width:1.1"/>
<path d="M364.9 323.6C366.8 324.2 367 323.2 370.5 325.5C374 327.8 373 326.3 375.5 330.5C378 334.7 377 333 378 338C379 343 379.2 340.1 378.6 345.5C378 350.9 378 349.7 376.1 354.2C374.2 358.8 374 357.6 373 359.2" style="stroke-width:1.3"/>
<path d="M370.5 348C371.2 352 371.2 352.7 372.5 360C373.8 367.3 371.9 361.7 374.4 370C376.9 378.3 377.1 376.7 380 385C382.9 393.3 381.7 389 383.1 395C384.6 401 384 400.4 384.4 403.1" style="stroke-width:1.4"/>
<path d="M351.8 330.5L343 353" style="stroke-width:1"/>
<path d="M358 331.8L348 355.5" style="stroke-width:1"/>
<path d="M324.2 361.1C330.9 359.7 335.9 357.8 344.2 356.8C352.6 355.7 347.6 357.6 349.2 358" style="stroke-width:1"/>
<path d="M325.5 368L345.5 363.6" style="stroke-width:1"/>
<path d="M328 373C334.2 372.2 338.8 370.9 346.8 370.5C354.7 370.1 350.1 371.3 351.8 371.8" style="stroke-width:1"/>
<path d="M344.2 356.8C343.2 357.6 342 356.8 341.1 359.2C340.3 361.8 339.9 360.5 341.8 364.2C343.6 368 345.1 368.4 346.8 370.5" style="stroke-width:1"/>
<path d="M348 355.5C349.2 359.7 349.7 359.7 351.8 368C353.8 376.3 352.6 375.9 354.2 380.5C355.9 385.1 350.5 384.7 356.8 381.8C363 378.8 367.6 375.1 373 371.8" style="stroke-width:1.2"/>
<path d="M354.9 364.2L354.9 380.5" style="stroke-width:1.2"/>
<path d="M354.9 364.2C357.6 360.9 359 358.4 363 354.2C367 350.1 365.5 352.6 366.8 351.8" style="stroke-width:1.4"/>
<path d="M346.8 370.5C348 373 347.4 374 350.5 378C353.6 382 354.2 380.9 356.1 382.4" style="stroke-width:1"/>
<path d="M363 326.8L363.6 349.2" style="stroke-width:1.8"/>
<path d="M369.2 326.8L370.5 349.2" style="stroke-width:1.8"/>
<path d="M366.1 329.2L366.5 340.5" style="stroke-width:1.2"/>
<path d="M363.6 349.2C364.7 350.1 363.6 351.8 366.8 351.8C369.9 351.8 369.2 351.3 373 349.2C376.8 347.2 376.3 346.8 378 345.5" style="stroke-width:1.4"/>
<path d="M364.5 344.2C364.3 342.5 364.4 342.8 365.5 341.8C366.6 340.7 366.2 340.8 367.8 341C369.2 341.2 369.2 341.1 370 342.5C370.8 343.9 370.8 343.7 370.2 345.2C369.8 346.8 369.9 346.7 368.5 347.2C367.1 347.8 367.3 348 366 347C364.7 346 364.7 346 364.5 344.2Z" style="stroke-width:1.6;fill:#999"/>
<path d="M366.2 344.2C366.4 343.4 366.2 343.3 367 343C367.8 342.7 367.9 342.7 368.5 343.2C369.1 343.8 369 343.9 368.8 344.8C368.5 345.6 368.5 345.5 367.8 345.8C367 346 367 346 366.5 345.5C366 345 366.1 345.1 366.2 344.2Z" style="stroke-width:1;fill:#333"/>
<path d="M363 327.4C362.4 325.7 363.2 325.6 364.9 324.9C366.5 324.2 366.5 324.2 368 325.2C369.5 326.3 369.7 326.5 369.2 328C368.8 329.5 368.8 330.1 366.8 329.9C364.7 329.7 363.6 329 363 327.4Z" style="stroke-width:1.2"/>
<path d="M342.4 332.8C341.5 333.5 342.2 332.7 339.9 334.9C337.5 337 338 336.1 335.2 339.2C332.5 342.4 333.9 340.9 331.8 344.2C329.6 347.6 330.8 345.8 328.8 349.2C326.8 352.7 327.6 350.5 325.8 354.5C323.9 358.5 324.1 358.9 323.2 361.1" style="stroke-width:1.2"/>
<path d="M337.4 333L339.9 334.9" style="stroke-width:1.3"/>
<path d="M334.9 335.2L337.4 337" style="stroke-width:1.3"/>
<path d="M332.8 337.4L335.2 339.2" style="stroke-width:1.3"/>
<path d="M330.9 339.9L333.4 341.8" style="stroke-width:1.3"/>
<path d="M329.2 342.4L331.8 344.2" style="stroke-width:1.3"/>
<path d="M327.8 344.9L330.2 346.8" style="stroke-width:1.3"/>
<path d="M326.2 347.4L328.8 349.2" style="stroke-width:1.3"/>
<path d="M324.8 349.9L327.2 351.8" style="stroke-width:1.3"/>
<path d="M323.2 352.4L325.8 354.5" style="stroke-width:1.3"/>
<path d="M321.8 355.1L324.5 357" style="stroke-width:1.3"/>
<path d="M329.5 346.6L336.2 345" style="stroke-width:2.2"/>
<path d="M330.5 348.6L334.9 347.8" style="stroke-width:1.4"/>
<path d="M372 398.8C371.6 396.6 371.8 396.9 373.2 395.5C374.7 394.1 374.2 394.3 376.2 394.5C378.2 394.7 378 394.4 379.2 396C380.5 397.6 380.4 397.2 380 399.2C379.6 401.2 379.8 401.1 378 402C376.2 402.9 376.5 403.1 374.5 402C372.5 400.9 372.4 400.9 372 398.8Z" style="stroke-width:1.6;fill:#999"/>
<path d="M374 398.8C374 397.7 374 397.6 375 397C376 396.4 376 396.4 377 397C378 397.6 378 397.7 378 398.8C378 399.8 378 399.8 377 400.2C376 400.8 376 400.8 375 400.2C374 399.8 374 399.8 374 398.8Z" style="stroke-width:1;fill:#333"/>
<path d="M366.2 403.8L382.5 403.8L388.8 405.6" style="stroke-width:1.2"/>
</g>
<!-- 50_part6.txt -->
<g>
<path d="M475 323.8C476.2 321.5 475.8 321 478.8 316.9C481.7 312.7 479.6 314.4 483.8 311.2C487.9 308.1 485.8 309.4 491.2 307.5C496.7 305.6 493.8 306.1 500 305.6C506.2 305.1 500.8 305 510 306C519.2 307 514.6 305.8 527.5 308.8C540.4 311.8 535.4 310 548.8 315C562.1 320 555.8 317.1 567.5 323.8C579.2 330.4 573.8 326.7 583.8 335C593.8 343.3 589.6 339.6 597.5 348.8C605.4 357.9 601.7 353.8 607.5 362.5C613.3 371.2 611.2 368.8 615 375C618.8 381.2 614.2 377.3 618.8 381.2C623.3 385.2 625.4 385 628.8 386.9L627.5 391.2L622.5 391.9" style="stroke-width:1.3"/>
<path d="M476.9 325C478.3 322.5 478.1 321.7 481.2 317.5C484.4 313.3 482.1 315.2 486.2 312.5C490.4 309.8 487.5 310.8 493.8 309.4C500 307.9 495.8 307.7 505 308.1C514.2 308.5 509.6 307.9 521.2 310.6C532.9 313.3 524.4 310.6 540 316.2C555.6 321.9 558.7 323.8 568 327.5" style="stroke-width:1.1"/>
<path d="M475 323.8C473.8 326.7 474 329.4 471.2 332.5C468.5 335.6 469.4 333.3 466.9 333.1C464.4 332.9 465.8 331.9 463.8 331.9C461.7 331.9 461.9 331.5 460.6 333.1C459.4 334.8 458.1 334.4 460 336.9C461.9 339.4 460.4 339.2 466.2 340.6C472.1 342.1 469.6 341.9 477.5 341.2C485.4 340.6 482.9 340.2 490 338.8C497.1 337.3 495.8 337.5 498.8 336.9" style="stroke-width:1.3"/>
<path d="M457.2 335C457.2 333.5 457.3 333.7 458.5 333.2C459.7 332.8 460 332.5 460.8 333.8C461.5 335 461.4 335.7 460.8 337C460.1 338.3 459.9 338.4 458.8 337.8C457.6 337.1 457.3 336.5 457.2 335Z" style="stroke-width:1;fill:#222"/>
<path d="M471.2 333.1C470.8 334.2 467.9 334.6 470 336.2C472.1 337.9 470.8 337.7 477.5 338.1C484.2 338.5 484.2 338.1 490 337.5C495.8 336.9 493.3 336.7 495 336.2" style="stroke-width:1"/>
<path d="M481.9 316.9C480.4 320 480.4 320 477.5 326.2C474.6 332.5 474.6 332.5 473.1 335.6" style="stroke-width:1"/>
<path d="M485.6 318.1C485.2 320.8 486.2 319.8 484.4 326.2C482.5 332.7 481.5 333.8 480 337.5" style="stroke-width:1"/>
<path d="M488.8 320.6C489 318.5 487.7 317.3 489.4 314.4C491 311.5 490.8 311.9 493.8 311.9C496.7 311.9 496.5 311.5 498.1 314.4C499.8 317.3 498.5 318.5 498.8 320.6" style="stroke-width:1.5"/>
<path d="M491.2 320.2C491.3 318.7 490.7 317.6 491.5 315.6C492.3 313.7 492.2 314.4 493.8 314.4C495.2 314.4 495.2 313.7 496 315.6C496.8 317.6 496.2 318.7 496.2 320.2" style="stroke-width:1.1"/>
<path d="M488.8 320.6L498.8 320.6" style="stroke-width:1.1"/>
<path d="M498.8 312.5C500 314 500.8 314.4 502.5 316.9C504.2 319.4 503.8 316.5 503.8 320C503.8 323.5 504.2 322.5 502.5 327.5C500.8 332.5 500 332.5 498.8 335" style="stroke-width:1.2"/>
<path d="M503.8 320C504.6 323.8 504.2 326.5 506.2 331.2C508.3 336 507.9 332.5 510 334.4C512.1 336.2 513.3 335.8 512.5 336.9C511.7 338 509.2 337.5 507.5 337.8" style="stroke-width:1.2"/>
<path d="M498.8 336.9L498.8 340.6L506.2 341L506.5 337.5" style="stroke-width:1.3"/>
<path d="M504.4 317.8L521.2 318.5" style="stroke-width:3.2;stroke:#333"/>
<path d="M503.8 316.2L521.9 316.5" style="stroke-width:1"/>
<path d="M504.4 320L521.2 320.5" style="stroke-width:1"/>
<path d="M515 311.9C517.5 312.9 519.6 312.5 522.5 315C525.4 317.5 524.6 317.5 523.8 319.4C522.9 321.3 521.2 320.3 520 320.8" style="stroke-width:1.2"/>
<path d="M500 310.6C505 311 505.8 310.2 515 311.9C524.2 313.5 517.1 311.9 527.5 315.6C537.9 319.4 533.8 317.7 546.2 323.1C558.8 328.5 554.6 326 565 331.9C575.4 337.7 571.2 335 577.5 340.6C583.8 346.2 581.7 346 583.8 348.8" style="stroke-width:1.2"/>
<path d="M530.6 311.5C533.8 312.5 533.8 312 540 314.5C546.2 317 546.2 317.5 549.4 319" style="stroke-width:3.4;stroke:#222"/>
<path d="M530.6 321C533.8 322 534 321.8 540 324C546 326.2 545.7 326.3 548.5 327.5" style="stroke-width:3;stroke:#333"/>
<path d="M527.5 310C531.7 311 532.1 310.4 540 313.1C547.9 315.8 547.7 315.4 551.2 318.1C554.8 320.8 550.8 320.2 550.6 321.2" style="stroke-width:1"/>
<path d="M527.5 319.4C531.7 320.5 532.5 320.2 540 322.8C547.5 325.2 546.7 325.5 550 326.9" style="stroke-width:1"/>
<path d="M505 331.2C508.3 331.2 507.5 330 515 331.2C522.5 332.5 517.1 331.2 527.5 335C537.9 338.8 532.8 337.5 546.2 342.5C559.8 347.5 558.4 346.2 568 350C577.6 353.8 572.7 352.5 575 353.8" style="stroke-width:1.4"/>
<path d="M512.5 335.6C517.5 336.7 516.2 335.6 527.5 338.8C538.8 341.9 532.8 340 546.2 345C559.8 350 558.8 349.8 568 353.8C577.2 357.7 571.8 355.8 573.8 356.9" style="stroke-width:1.2"/>
<path d="M507.5 333.1C514.2 334.4 514.6 333.2 527.5 336.9C540.4 340.5 530.8 337.9 546.2 344C561.7 350.1 564.6 351.5 573.8 355.2" style="stroke-width:1.1"/>
<path d="M517.5 333.1L520 336.9" style="stroke-width:1"/>
<path d="M525 335.2L527.5 339" style="stroke-width:1"/>
<path d="M532.5 338.1L535 341.2" style="stroke-width:1"/>
<path d="M540 341L542.5 344" style="stroke-width:1"/>
<path d="M547.5 343.8L550 346.9" style="stroke-width:1"/>
<path d="M555 346.5L557.5 349.8" style="stroke-width:1"/>
<path d="M562.5 349.2L565 352.5" style="stroke-width:1"/>
<path d="M555.6 326.9C556 325.4 556.2 325.1 558.1 324.4C560 323.7 560.6 323.5 561.2 324.8C561.9 326 561.5 326.8 560 328.1C558.5 329.5 558.3 329.2 556.9 328.8C555.4 328.3 555.2 328.3 555.6 326.9Z" style="stroke-width:1.9;stroke:#222;fill:#fff"/>
<path d="M560.6 330C560.9 328.1 561.2 327.7 563.1 326.9C565 326 565.4 326 566.2 327.5C567.1 329 567 329.6 565.6 331.2C564.3 332.9 563.9 332.9 562.2 332.5C560.6 332.1 560.3 331.9 560.6 330Z" style="stroke-width:1.9;stroke:#222;fill:#fff"/>
<path d="M566 333.8C566.2 331.7 566.5 331.2 568.5 330.2C570.5 329.3 571 329.4 571.9 331C572.8 332.6 572.6 333.2 571.2 335C569.9 336.8 569.5 336.9 567.8 336.5C566 336.1 565.8 335.8 566 333.8Z" style="stroke-width:1.9;stroke:#222;fill:#fff"/>
<path d="M571 337.8C571.2 335.6 571.6 335.3 573.5 334.4C575.4 333.5 575.8 333.4 576.8 335C577.8 336.6 577.8 337.3 576.5 339.2C575.2 341.2 574.8 341.2 573 340.8C571.2 340.2 570.8 339.9 571 337.8Z" style="stroke-width:1.9;stroke:#222;fill:#fff"/>
<path d="M575.2 342.2C575.3 340 575.7 339.5 577.5 338.5C579.3 337.5 579.7 337.7 580.6 339.4C581.5 341 581.4 341.5 580.2 343.5C579.1 345.5 578.9 345.7 577.2 345.2C575.6 344.8 575.2 344.5 575.2 342.2Z" style="stroke-width:1.9;stroke:#222;fill:#fff"/>
<path d="M555 325.6C556.7 324.8 555 322.5 560 323.1C565 323.8 563.3 322.9 570 327.5C576.7 332.1 576.2 332.1 580 336.9C583.8 341.7 581.9 339 581.2 341.9C580.6 344.8 579.2 344.4 578.1 345.6" style="stroke-width:1.2"/>
<path d="M530 311.9C533.3 312.9 533.8 312.3 540 315C546.2 317.7 545.8 318.3 548.8 320" style="stroke-width:3;stroke:#222"/>
<path d="M530 321.9C533.3 322.9 534.2 322.7 540 325C545.8 327.3 545 327.5 547.5 328.8" style="stroke-width:2.6;stroke:#333"/>
<path d="M530 316.2C536.2 318.8 537.1 317.5 548.8 323.8C560.4 330 556.7 328.3 565 335C573.3 341.7 569.2 337.9 573.8 343.8C578.3 349.6 576.2 346.2 578.8 352.5C581.2 358.8 579.6 355 581.2 362.5C582.9 370 582.1 368.5 583.8 375C585.4 381.5 580.8 378.5 586.2 381.9C591.7 385.2 595.4 384 600 385" style="stroke-width:1.2"/>
<path d="M530 320C535.8 322.3 536.7 321.2 547.5 326.9C558.3 332.5 554.6 330.8 562.5 336.9C570.4 342.9 566.9 339.8 571.2 345C575.6 350.2 573.5 346.7 575.6 352.5C577.7 358.3 576.2 355 577.5 362.5C578.8 370 578.1 367.9 579.4 375C580.6 382.1 579 379.8 581.2 383.8C583.5 387.7 578.3 384.4 586.2 386.9C594.2 389.4 598.8 389.8 605 391.2" style="stroke-width:1.2"/>
<path d="M563.8 336.2C566.7 339 568 339 572.5 344.4C577 349.8 575 346.5 577.2 352.5C579.5 358.5 578 355 579.4 362.5C580.8 370 580 368.1 581.5 375C583 381.9 583 380.4 583.8 383.1" style="stroke-width:1"/>
<path d="M586.2 381.9L617.5 381.2" style="stroke-width:1.2"/>
<path d="M588.1 382.8L617.5 382.5" style="stroke-width:2.4;stroke:#888"/>
<path d="M585 385C591.7 386.7 595.8 387.7 605 390C614.2 392.3 608.3 392.3 612.5 391.9C616.7 391.5 613.3 390 617.5 388.8C621.7 387.5 622.5 388.3 625 388.1" style="stroke-width:1.2"/>
<path d="M622.5 391.9C622.7 391.2 621.5 390.6 623.1 390C624.8 389.4 626 390 627.5 390" style="stroke-width:1.2"/>
<path d="M603.1 391.2C603.4 389 603.1 389.8 604.4 389C605.6 388.2 605.4 388.2 606.9 388.8C608.3 389.3 608.2 388.1 608.8 390.6C609.3 393.1 609.8 394 608.5 396.2C607.2 398.5 606.7 397.7 605 397.5C603.3 397.3 604.1 397.7 603.5 395.6C602.9 393.5 602.8 393.5 603.1 391.2Z" style="stroke-width:1.4;fill:#444"/>
</g>
<!-- 60_part5.txt -->
<g>
<path d="M511.9 411.2C512.7 410.9 511.7 409.4 514.4 410.2C517.1 411.1 514.8 410.1 520 413.8C525.2 417.4 523.8 415.8 530 421.2C536.2 426.7 534.8 424.6 538.8 430C542.7 435.4 541.5 432.1 541.9 437.5C542.3 442.9 541.9 440.4 540 446.2C538.1 452.1 538.8 450 536.2 455C533.8 460 535.4 456.7 532.5 461.2C529.6 465.8 533.3 464.2 527.5 468.8C521.7 473.3 525.4 470.8 515 475C504.6 479.2 509.6 476.9 496.2 481.2C482.9 485.6 482.1 485.8 475 488.1" style="stroke-width:1.9"/>
<path d="M475 488.1C472.5 487.5 474 488.5 467.5 486.2C461 484 460.4 485.8 455.6 481.2C450.8 476.7 453.8 479.2 453.1 472.5C452.5 465.8 452.9 467.5 453.8 461.2C454.6 455 451.9 460.4 455.6 453.8C459.4 447.1 459.8 447.5 465 441.2C470.2 435 467.1 438.5 471.2 435C475.4 431.5 475.4 432.1 477.5 430.6" style="stroke-width:1.3"/>
<path d="M512.5 414.4C517.5 417.5 519.6 417.7 527.5 423.8C535.4 429.8 532.5 427.5 536.2 432.5C540 437.5 538.5 434.2 538.8 438.8C539 443.3 538.8 440.8 536.9 446.2C535 451.7 535.8 449.2 533.1 455C530.4 460.8 531.5 459.6 528.8 463.8C526 467.9 529.6 464.8 525 467.5C520.4 470.2 524.6 468.3 515 471.9C505.4 475.4 509.6 473.8 496.2 478.1C482.9 482.5 482.1 482.7 475 485" style="stroke-width:1.2"/>
<path d="M477.5 430.6C481.7 426.7 482.1 425.8 490 418.8C497.9 411.7 496 412.9 501.2 409.4C506.5 405.8 503.3 407.7 505.6 408.1C507.9 408.5 507.5 407.9 508.1 410.6C508.8 413.3 508.5 413.1 507.5 416.2C506.5 419.4 505.8 418.8 505 420" style="stroke-width:1.4"/>
<path d="M480 431.2C484.2 427.7 485 427.1 492.5 420.6C500 414.2 498.2 415 502.5 411.9C506.8 408.8 504.3 411.5 505.2 411.2" style="stroke-width:1.1"/>
<path d="M477.5 430.6C478.8 430.9 475.4 433 481.2 431.5C487.1 430 487.1 430.1 495 426.2C502.9 422.4 501.7 422.1 505 420" style="stroke-width:1.2"/>
<path d="M477.5 430L482.5 431.9" style="stroke-width:2"/>
<path d="M496.2 427.5C496.2 425.1 496.1 425.7 497.8 424C499.4 422.3 498.9 422.5 501.2 422.5C503.6 422.5 503.1 422.3 504.8 424C506.4 425.7 506.2 425.1 506.2 427.5C506.2 429.9 506.4 429.5 504.8 431.2C503.1 433 503.6 432.8 501.2 432.8C498.9 432.8 499.4 433 497.8 431.2C496.1 429.5 496.2 429.9 496.2 427.5Z" style="stroke-width:1.5"/>
<path d="M498.8 427.5C498.8 426.3 498.7 426.6 499.5 425.8C500.3 424.9 500.1 425 501.2 425C502.4 425 502.2 424.9 503 425.8C503.8 426.6 503.8 426.3 503.8 427.5C503.8 428.7 503.8 428.4 503 429.2C502.2 430.1 502.4 430 501.2 430C500.1 430 500.3 430.1 499.5 429.2C498.7 428.4 498.8 428.7 498.8 427.5Z" style="stroke-width:1.4;fill:#666"/>
<path d="M511.9 412.2L520 419" style="stroke-width:2.4"/>
<path d="M508.1 416.2L515 419" style="stroke-width:1.2"/>
<path d="M505 420L510 421.2" style="stroke-width:1.2"/>
<path d="M518.1 421.2C515.4 425 515.2 425.4 510 432.5C504.8 439.6 506.7 436.7 502.5 442.5C498.3 448.3 501.7 444.4 497.5 450C493.3 455.6 494.2 455.1 490 459.4C485.8 463.6 486.7 461.6 485 462.8" style="stroke-width:1.6"/>
<path d="M520.6 422.8C517.9 426.8 517.7 427.2 512.5 435C507.3 442.8 509.6 439.9 505 446.2C500.4 452.6 500.8 451.4 498.8 454" style="stroke-width:1.2"/>
<path d="M515 419.4C512.5 423.3 512.5 423.5 507.5 431.2C502.5 439 502.5 438.8 500 442.5" style="stroke-width:1.2"/>
<path d="M466.9 439.4L471.2 435.6" style="stroke-width:1.2"/>
<path d="M466.9 439.4L484.4 462.5" style="stroke-width:1.2"/>
<path d="M473.1 437.5L487.5 459" style="stroke-width:1.2"/>
<path d="M484.4 462.5L490 459.4" style="stroke-width:1.2"/>
<path d="M495 455C497.5 452.6 497.9 450.7 502.5 447.8C507.1 444.8 504.6 445.1 508.8 446.2C512.9 447.4 509.2 445.8 515 451.2C520.8 456.7 522.1 457.1 526.2 462.5C530.4 467.9 527.1 465.8 527.5 467.5" style="stroke-width:1.2"/>
<path d="M495 455C495.8 456.7 491.2 454.6 497.5 460C503.8 465.4 506.7 467.9 513.8 471.2C520.8 474.6 517.1 470.4 518.8 470" style="stroke-width:1.2"/>
<path d="M502.5 448.8L520 468.8" style="stroke-width:1.1"/>
<path d="M500 456.2L516.5 470.2" style="stroke-width:1.1"/>
<path d="M525 452.5C525.6 449 525.4 448.3 527.5 445.6C529.6 442.9 528.8 443.8 531.2 444.4C533.8 445 534.6 444 535 447.5C535.4 451 534.2 451.5 532.5 455C530.8 458.5 532.3 457.7 530 458.1C527.7 458.5 527.3 458.1 525.6 456.2C524 454.4 524.4 456 525 452.5Z" style="stroke-width:1.8"/>
<path d="M528.1 446.2L526.2 455.6" style="stroke-width:1.2"/>
<path d="M536.2 438.8C537.1 440.8 538.8 440.4 538.8 445C538.8 449.6 538.3 447.5 536.2 452.5C534.2 457.5 533.8 457.5 532.5 460" style="stroke-width:2"/>
<path d="M456 471.9C456.1 469.4 455.7 469.8 457.2 468.1C458.8 466.5 458.4 466.8 460.6 466.9C462.9 467 462.3 466.6 464 468.5C465.7 470.4 465.7 469.9 465.6 472.5C465.5 475.1 465.6 474.7 463.8 476.2C461.9 477.8 462.2 477.5 460 477.2C457.8 477 458.3 477.4 457 475.6C455.7 473.8 455.9 474.4 456 471.9Z" style="stroke-width:1.6"/>
<path d="M458.5 471.9C458.7 470.3 458.2 470.3 459.4 469.4C460.5 468.4 460.4 468.4 461.9 469C463.3 469.6 463.3 469.5 463.8 471.2C464.2 473 464.2 473 463.1 474.4C462.1 475.7 462.1 475.4 460.6 475.2C459.2 475.1 459.5 475.1 458.8 474C458 472.9 458.3 473.4 458.5 471.9Z" style="stroke-width:1.2;fill:#777"/>
<path d="M455.6 480C459.6 481.7 461 482.3 467.5 485C474 487.7 472.5 487.1 475 488.1" style="stroke-width:1.4"/>
<path d="M465 478.8L471.2 485" style="stroke-width:1.4"/>
<path d="M453.8 477.5C454.6 479.4 451.7 479.6 456.2 483.1C460.8 486.7 461.2 486.2 467.5 488.1C473.8 490 472.5 488.5 475 488.8" style="stroke-width:1.2"/>
</g>
<!-- 70_hardware.txt -->
<g>
<path d="M407.2 326.7L396.7 330.9L396.4 332.5L397.7 333.5L408.4 330.5 Z" style="fill:#3a3a3a;stroke:#222;stroke-width:0.9"/>
<path d="M405.4 329.4L398.6 331.7" style="stroke:#8a8a8a;stroke-width:0.9"/>
<ellipse cx="407.8" cy="328.6" rx="2.6" ry="3.9" transform="rotate(161.2 407.8 328.6)" style="fill:#2a2a2a;stroke:#1a1a1a;stroke-width:1"/>
<ellipse cx="408.4" cy="328.4" rx="1.2" ry="2.1" transform="rotate(161.2 407.8 328.6)" style="fill:#6a6a6a;stroke:none"/>
<path d="M417.5 382.4L407.6 385.6L407.2 387.2L408.4 388.4L418.5 386.2 Z" style="fill:#3a3a3a;stroke:#222;stroke-width:0.9"/>
<path d="M415.6 385L409.4 386.6" style="stroke:#8a8a8a;stroke-width:0.9"/>
<ellipse cx="418" cy="384.3" rx="2.6" ry="3.9" transform="rotate(164.9 418 384.3)" style="fill:#2a2a2a;stroke:#1a1a1a;stroke-width:1"/>
<ellipse cx="418.6" cy="384.1" rx="1.2" ry="2.1" transform="rotate(164.9 418 384.3)" style="fill:#6a6a6a;stroke:none"/>
<path d="M557.8 396.5L547.9 400.3L547.5 401.8L548.7 402.9L559 400.3 Z" style="fill:#3a3a3a;stroke:#222;stroke-width:0.9"/>
<path d="M556 399.2L549.7 401.1" style="stroke:#8a8a8a;stroke-width:0.9"/>
<ellipse cx="558.4" cy="398.4" rx="2.6" ry="3.9" transform="rotate(162.4 558.4 398.4)" style="fill:#2a2a2a;stroke:#1a1a1a;stroke-width:1"/>
<ellipse cx="559" cy="398.2" rx="1.2" ry="2.1" transform="rotate(162.4 558.4 398.4)" style="fill:#6a6a6a;stroke:none"/>
<path d="M571.5 439L561.9 443.1L561.6 444.7L562.9 445.7L572.9 442.8 Z" style="fill:#3a3a3a;stroke:#222;stroke-width:0.9"/>
<path d="M569.8 441.7L563.8 443.9" style="stroke:#8a8a8a;stroke-width:0.9"/>
<ellipse cx="572.2" cy="440.9" rx="2.6" ry="3.9" transform="rotate(160.3 572.2 440.9)" style="fill:#2a2a2a;stroke:#1a1a1a;stroke-width:1"/>
<ellipse cx="572.8" cy="440.7" rx="1.2" ry="2.1" transform="rotate(160.3 572.2 440.9)" style="fill:#6a6a6a;stroke:none"/>
<path d="M130.7 487.2L142.5 483.8L143 482.2L141.9 481L129.7 483.4 Z" style="fill:#3a3a3a;stroke:#222;stroke-width:0.9"/>
<path d="M132.6 484.7L140.7 482.8" style="stroke:#8a8a8a;stroke-width:0.9"/>
<ellipse cx="130.2" cy="485.3" rx="2.6" ry="3.9" transform="rotate(-13.6 130.2 485.3)" style="fill:#2a2a2a;stroke:#1a1a1a;stroke-width:1"/>
<ellipse cx="129.6" cy="485.4" rx="1.2" ry="2.1" transform="rotate(-13.6 130.2 485.3)" style="fill:#6a6a6a;stroke:none"/>
<path d="M349 565.2L340 561.9L338.7 562.9L338.8 564.5L347.4 568.8 Z" style="fill:#3a3a3a;stroke:#222;stroke-width:0.9"/>
<path d="M345.9 566L340.8 563.8" style="stroke:#8a8a8a;stroke-width:0.9"/>
<ellipse cx="348.2" cy="567" rx="2.6" ry="3.9" transform="rotate(-156.6 348.2 567)" style="fill:#2a2a2a;stroke:#1a1a1a;stroke-width:1"/>
<ellipse cx="348.8" cy="567.2" rx="1.2" ry="2.1" transform="rotate(-156.6 348.2 567)" style="fill:#6a6a6a;stroke:none"/>
<path d="M527.6 234.3L539.5 231.2L540 229.6L538.9 228.4L526.8 230.3 Z" style="fill:#3a3a3a;stroke:#222;stroke-width:0.9"/>
<path d="M529.6 231.8L537.7 230.1" style="stroke:#8a8a8a;stroke-width:0.9"/>
<ellipse cx="527.2" cy="232.3" rx="2.6" ry="3.6" transform="rotate(-11.8 527.2 232.3)" style="fill:#2a2a2a;stroke:#1a1a1a;stroke-width:1"/>
<ellipse cx="526.6" cy="232.4" rx="1.2" ry="2" transform="rotate(-11.8 527.2 232.3)" style="fill:#6a6a6a;stroke:none"/>
<path d="M488.2 277C487.9 274.7 487.8 275.3 489.2 273.8C490.6 272.3 490.2 272.5 492.5 272.6C494.8 272.7 494.4 272.5 496 274C497.6 275.5 497.3 274.9 497.4 277C497.5 279.1 497.6 278.5 496.2 280.2C494.8 281.9 495.3 281.9 493.2 282C491.1 282.1 491.7 282.3 490 280.6C488.3 278.9 488.5 279.3 488.2 277Z" style="stroke-width:1;fill:#333"/>
<path d="M490.5 276C490.9 274.7 491.2 274.7 492.5 274.6C493.8 274.5 494.1 274.5 494.4 275.6C494.7 276.7 494.4 277.1 493.4 278C492.4 278.9 492.3 279.1 491.3 278.4C490.3 277.7 490.1 277.3 490.5 276Z" style="stroke-width:0.5;stroke:#888;fill:#8a8a8a"/>
<path d="M493 277L493.6 281.6" style="stroke-width:1;stroke:#111"/>
<path d="M571.2 298.6C572.1 298.1 572.2 298.8 574.5 300.2C576.8 301.6 575.8 300.8 578.2 302.8C580.6 304.8 579.8 303.9 581.8 306.2C583.8 308.5 583.5 308.1 584.2 309.8C584.9 311.5 584.3 310.1 583.8 311.2C583.3 312.3 583.5 312.5 582.8 313C582.1 313.5 582.1 313.3 581.6 312.6C581.1 311.9 582.7 312.5 581.2 310.8C579.7 309.1 579.6 309.5 577 307.4C574.4 305.3 575.5 305.7 573.4 304.6C571.3 303.5 571.3 305.2 570.8 304.2C570.3 303.2 571.7 303.5 571.8 301.6C571.9 299.7 570.3 299.1 571.2 298.6Z" style="stroke-width:0.8;fill:#333"/>
<path d="M573.5 301.8C574.8 302.7 575.1 302.7 577.5 304.6C579.9 306.5 579.6 306.6 580.6 307.6" style="stroke-width:0.6;stroke:#888"/>
<path d="M684.8 266.9C684.3 265.1 684.3 265.7 685.8 264.7C687.3 263.7 687.2 264.2 689.2 263.8C691.2 263.4 690.2 263.6 691.7 263.5C693.2 263.4 692 263.1 693.6 263.5C695.2 263.9 695 263.6 696.6 264.7C698.2 265.8 698 265.5 698.4 266.8C698.8 268.1 699.4 267 697.8 268.7C696.2 270.4 695.9 270.6 693.6 271.8C691.3 273 693.1 272.9 691 272.3C688.9 271.7 689.4 271.8 687.3 270C685.2 268.2 685.3 268.7 684.8 266.9Z" style="stroke-width:1.2"/>
<path d="M690.6 263.9C691.4 263.1 691.6 263.2 693.6 263.5C695.6 263.8 695 263.6 696.6 264.7C698.2 265.8 698 265.5 698.4 266.8C698.8 268.1 699.4 267 697.8 268.7C696.2 270.4 695.9 270.6 693.6 271.8C691.3 273 692.3 273.1 691 272.3C689.7 271.5 689.5 271.5 689.6 269.3C689.7 267.1 690.9 267.6 691.2 265.8C691.5 264 689.8 264.7 690.6 263.9Z" style="stroke-width:0.8;fill:#333"/>
<path d="M692.8 265.6C693.7 264.7 694.1 264.7 695.4 265.2C696.7 265.7 696.8 265.9 696.6 267C696.4 268.1 696.1 268.3 694.8 268.6C693.5 268.9 693.3 269 692.6 268C691.9 267 691.9 266.5 692.8 265.6Z" style="stroke-width:0.4;stroke:#999;fill:#999"/>
<path d="M772.4 435.4C773.4 434.9 773.1 434.5 775.5 434C777.9 433.5 776.8 433.5 779.5 433.8C782.2 434.1 781 433.7 783.5 434.8C786 435.9 785.8 436.3 787 437L785.2 442.5C783.3 442.8 784.3 443.7 779.5 443.5C774.7 443.3 773.7 442.4 770.8 441.9L772.4 435.4Z" style="stroke-width:1.3"/>
<path d="M771 442L779.5 443.6L785 442.6" style="stroke-width:2.2"/>
<path d="M781.5 438C782 436.4 782.5 436.9 784 437.2C785.5 437.5 785.6 437.3 786 438.8C786.4 440.3 786.4 440.5 785.2 441.6C784 442.7 783.6 443.2 782.4 442C781.2 440.8 781 439.6 781.5 438Z" style="stroke-width:0.8;fill:#777"/>
<path d="M780 434.2L781.5 443" style="stroke-width:1"/>
</g>
<!-- 80_lines.txt -->
<g>
<path d="M143 481.8L275.5 449.2" style="stroke-width:1.15;stroke:#777;stroke-dasharray:10 3.7 1.5 3.7;stroke-linecap:butt"/>
<path d="M318.5 438.4L573.5 374.6" style="stroke-width:1.15;stroke:#777;stroke-dasharray:10 3.7 1.5 3.7;stroke-linecap:butt"/>
<path d="M612.5 364.4L733 333.2" style="stroke-width:1.15;stroke:#777;stroke-dasharray:10 3.7 1.5 3.7;stroke-linecap:butt"/>
<path d="M337.5 543.9L811 450" style="stroke-width:1.15;stroke:#777;stroke-dasharray:10 3.7 1.5 3.7;stroke-linecap:butt"/>
<path d="M811 450L788 440.6" style="stroke-width:1.1;stroke:#7d7d7d;stroke-dasharray:5 4;stroke-linecap:butt"/>
<path d="M380.5 339.2L396.8 332.4" style="stroke-width:1.1;stroke:#666;stroke-dasharray:7 3.5;stroke-linecap:butt"/>
<path d="M384.2 396.8L408 388" style="stroke-width:1.1;stroke:#666;stroke-dasharray:7 3.5;stroke-linecap:butt"/>
<path d="M523.8 411.9L547.5 401.9" style="stroke-width:1.1;stroke:#666;stroke-dasharray:7 3.5;stroke-linecap:butt"/>
<path d="M538.1 453.8L562.5 445" style="stroke-width:1.1;stroke:#666;stroke-dasharray:7 3.5;stroke-linecap:butt"/>
<path d="M328.5 558.9L338.5 562.6" style="stroke-width:1.1;stroke:#666;stroke-dasharray:5 3;stroke-linecap:butt"/>
<path d="M540 230L548.8 228.1" style="stroke-width:1;stroke:#888;stroke-dasharray:4 2.5;stroke-linecap:butt"/>
<path d="M662.5 167.5L725 145.6" style="stroke-width:0.8;stroke:#333"/>
<path d="M807 202.5L799.5 238.8" style="stroke-width:0.8;stroke:#333"/>
<path d="M684 227.2L686.5 243.7L689.6 262.9" style="stroke-width:0.8;stroke:#333"/>
<path d="M742.6 425L770.8 436.9" style="stroke-width:0.8;stroke:#333"/>
<path d="M535 234.4L553.8 253.8" style="stroke-width:0.8;stroke:#333"/>
<path d="M475 260.6L488.8 273.8" style="stroke-width:0.8;stroke:#333"/>
<path d="M585 310L613.1 320.6" style="stroke-width:0.8;stroke:#333"/>
<path d="M434 302.9L473.8 323.1" style="stroke-width:0.8;stroke:#333"/>
<path d="M328.1 316.9L334.4 328.1" style="stroke-width:0.8;stroke:#333"/>
<path d="M412.4 334.2L433 356.8L421.1 380.5" style="stroke-width:0.8;stroke:#333"/>
<path d="M563.4 401.1L580.4 419.8L573.1 436.9" style="stroke-width:0.8;stroke:#333"/>
<path d="M433.3 448.2L455.3 453" style="stroke-width:0.8;stroke:#333"/>
<path d="M252.4 338.6L248.6 360L245.2 374" style="stroke-width:0.8;stroke:#333"/>
<path d="M117.4 462.3L133.1 481.5" style="stroke-width:0.8;stroke:#333"/>
<path d="M352.6 564.8L373.3 559.8" style="stroke-width:0.8;stroke:#333"/>
</g>
</svg>
</body></html>
